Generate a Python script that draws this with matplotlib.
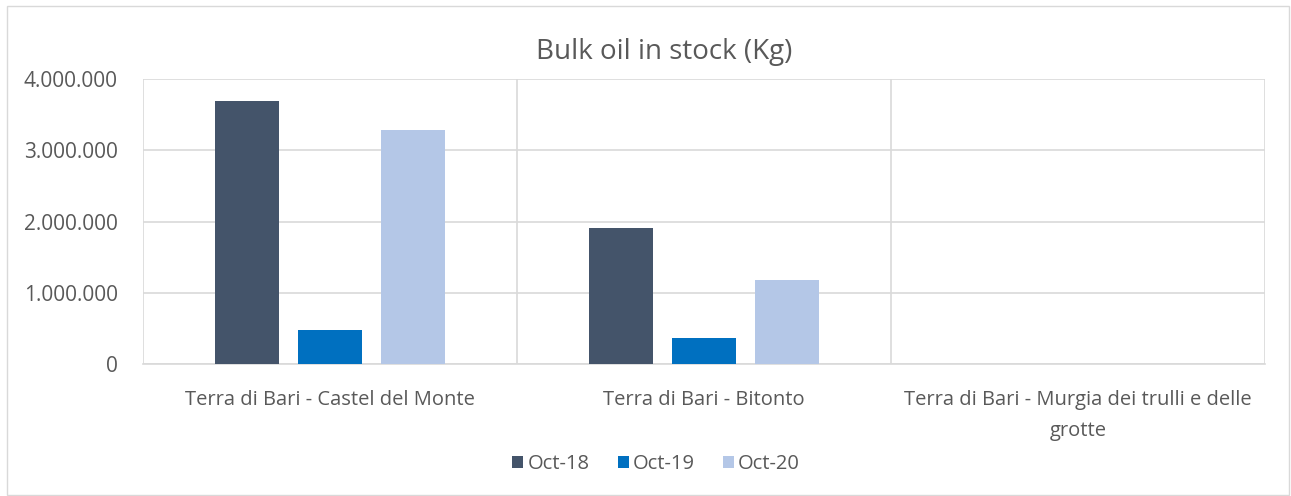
import matplotlib
import numpy as np

matplotlib.use("Agg", force=True)
import matplotlib.pyplot as plt
from matplotlib.patches import Rectangle
from matplotlib.ticker import FuncFormatter

categories = [
    "Terra di Bari - Castel del Monte",
    "Terra di Bari - Bitonto",
    "Terra di Bari - Murgia dei trulli e delle\ngrotte",
]
series_names = ["Oct-18", "Oct-19", "Oct-20"]
oct_18 = [3690000, 1910000, 0]
oct_19 = [480000, 365000, 0]
oct_20 = [3280000, 1180000, 0]
y_ticks = [0, 1000000, 2000000, 3000000, 4000000]

colors = ["#44546A", "#0070C0", "#B4C7E7"]
text_color = "#595959"
grid_color = "#D9D9D9"
plt.rcParams["font.family"] = ["Open Sans", "DejaVu Sans"]

W, H = 1291, 496
fig = plt.figure(figsize=(W / 100, H / 100), dpi=100)
left, right, top, bottom = 143, 1265, 79, 364
ax = fig.add_axes([left / W, 1 - bottom / H, (right - left) / W, (bottom - top) / H])

x = np.arange(len(categories))
bar_width = 0.173
offset = 0.222
for i, (name, values) in enumerate(zip(series_names, [oct_18, oct_19, oct_20])):
    ax.bar(x + (i - 1) * offset, values, width=bar_width, color=colors[i],
           label=name, zorder=3)

ax.set_xlim(-0.5, len(categories) - 0.5)
ax.set_ylim(0, 4000000)
ax.set_yticks(y_ticks)
ax.yaxis.set_major_formatter(FuncFormatter(lambda v, _: f"{int(v):,}".replace(",", ".")))
ax.set_xticks(x)
ax.set_xticklabels(categories, fontsize=14.5, color=text_color, linespacing=1.7)
ax.tick_params(axis="y", labelsize=15, colors=text_color, length=0, pad=18)
ax.tick_params(axis="x", length=0, pad=19)

ax.grid(axis="y", color=grid_color, linewidth=1.2, zorder=0)
for b in np.arange(-0.5, len(categories), 1.0):
    ax.axvline(b, color=grid_color, linewidth=1.2, zorder=0)
for side in ["top", "right", "left"]:
    ax.spines[side].set_visible(False)
ax.spines["bottom"].set_color(grid_color)
ax.spines["bottom"].set_linewidth(1.2)

fig.text(664 / W, 1 - 52 / H, "Bulk oil in stock (Kg)",
         ha="center", va="center", fontsize=20, color=text_color)

ax.legend(loc="center", bbox_to_anchor=(656 / W, 1 - 464 / H), bbox_transform=fig.transFigure,
          ncol=3, frameon=False, fontsize=14.5, labelcolor=text_color,
          handlelength=0.55, handleheight=0.55, handletextpad=0.2, columnspacing=1.4)

fig.patches.append(Rectangle((7 / W, 1 / H), 1282 / W, 489 / H,
                             transform=fig.transFigure, fill=False,
                             edgecolor="#D9D9D9", linewidth=1.0))

fig.savefig("out.png", dpi=100)
